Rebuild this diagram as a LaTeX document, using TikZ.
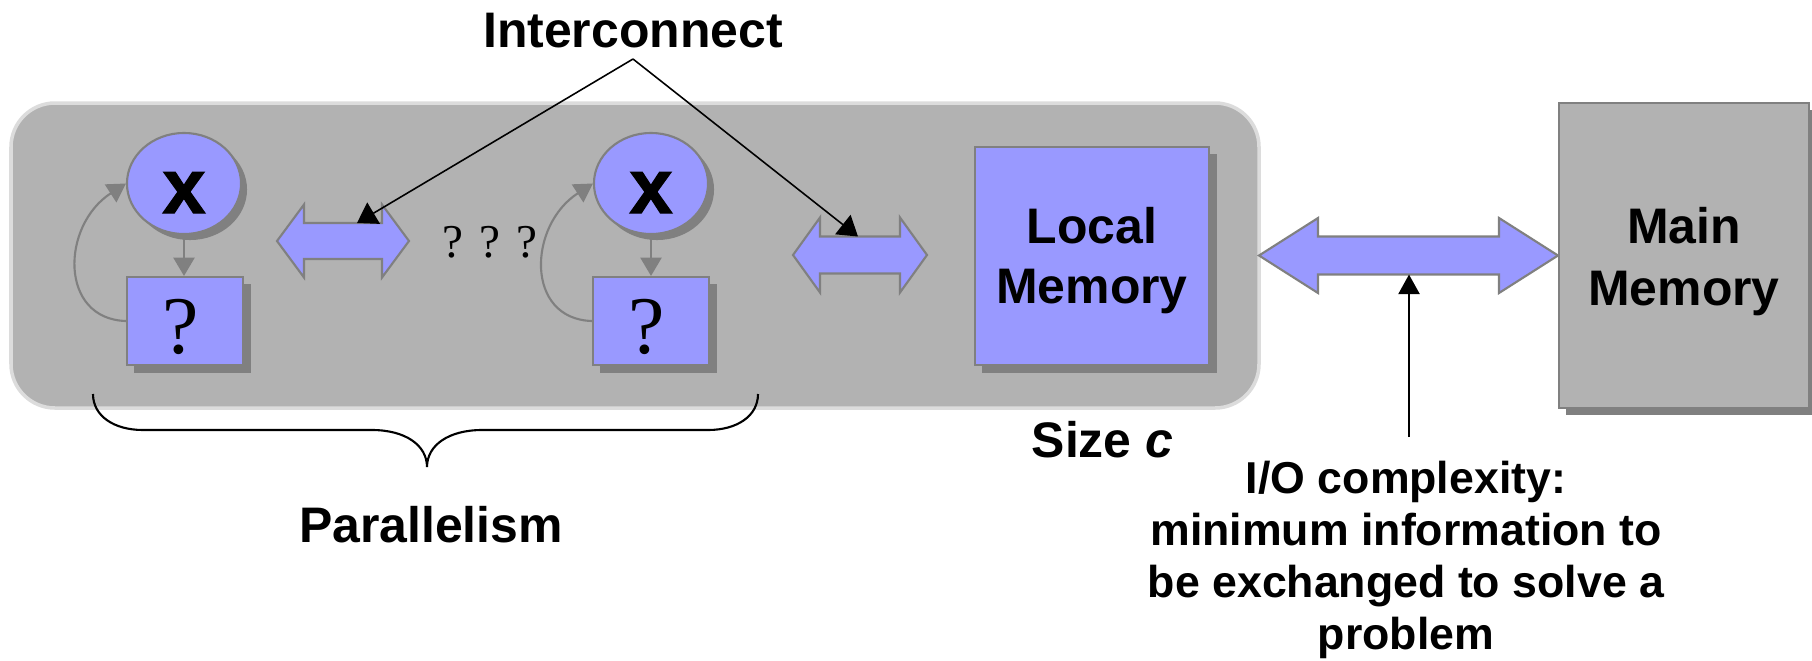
\documentclass[tikz,border=0pt]{standalone}
\usepackage{fontspec}
\setmainfont{Liberation Sans}
\newfontfamily\serifq{Liberation Serif}
\newfontfamily\heavyx[FakeBold=1.5]{Liberation Sans Bold}
\usetikzlibrary{shapes.geometric,arrows.meta,shadows}
\definecolor{blueish}{HTML}{9999FF}
\definecolor{panelgray}{HTML}{B2B2B2}
\definecolor{edgegray}{HTML}{808080}
\definecolor{shadowgray}{HTML}{808080}
\definecolor{paneledge}{HTML}{DCDCDC}
\lineskiplimit=-20pt
\newcommand{\myDblArrow}[6]{% x1 x2 cy headlen headhalf shafthalf
  \draw[dblarr] (#1,#3) -- ({#1+#4},{#3-#5}) -- ({#1+#4},{#3-#6}) -- ({#2-#4},{#3-#6})
   -- ({#2-#4},{#3-#5}) -- (#2,#3) -- ({#2-#4},{#3+#5}) -- ({#2-#4},{#3+#6})
   -- ({#1+#4},{#3+#6}) -- ({#1+#4},{#3+#5}) -- cycle;}
\tikzset{
  bluebox/.style={rectangle, draw=edgegray, fill=blueish, line width=0.6pt, inner sep=0pt,
    general shadow={fill=shadowgray, shadow xshift=0.075cm, shadow yshift=-0.075cm}},
  grayboxs/.style={rectangle, draw=edgegray, fill=panelgray, line width=0.6pt, inner sep=0pt,
    general shadow={fill=shadowgray, shadow xshift=0.07cm, shadow yshift=-0.07cm}},
  blueell/.style={ellipse, draw=edgegray, fill=blueish, line width=0.6pt, inner sep=0pt,
    minimum width=1.14cm, minimum height=1.01cm,
    general shadow={fill=shadowgray, shadow xshift=0.06cm, shadow yshift=-0.06cm}},
  dblarr/.style={fill=blueish, draw=edgegray, line width=0.6pt, line join=miter},
  garrow/.style={draw=edgegray, line width=0.6pt, -{Triangle[length=5.2pt,width=6pt]}},
  conn/.style={draw=black, line width=0.45pt, -{Triangle[length=5.5pt,width=7pt]}},
  upconn/.style={draw=black, line width=0.7pt, -{Triangle[length=5.6pt,width=6pt]}},
  lbl/.style={inner sep=0pt, font=\bfseries\fontsize{14.2pt}{17pt}\selectfont},
  memlbl/.style={inner sep=0pt, align=center, anchor=north},
  iolbl/.style={inner sep=0pt, align=center, anchor=north,
    font=\bfseries\fontsize{12.7pt}{14.8pt}\selectfont},
  xlbl/.style={inner sep=0pt, anchor=base, font=\heavyx\fontsize{22pt}{24pt}\selectfont},
  qlbl/.style={inner sep=0pt, anchor=base, font=\serifq\fontsize{23.3pt}{26pt}\selectfont},
  dotslbl/.style={inner sep=0pt, anchor=base, font=\serifq\fontsize{13.4pt}{16pt}\selectfont},
  bracepath/.style={draw=black, line width=0.6pt}
}
\begin{document}
\begin{tikzpicture}[x=0.01cm,y=-0.01cm]
\useasboundingbox (0,0) rectangle (1812,660);
\fill[white] (0,0) rectangle (1812,660);

% panel
\draw[fill=panelgray, draw=paneledge, line width=1pt, rounded corners=0.44cm] (11,103) rectangle (1259,408);

% processing elements
\node[blueell] (c1) at (184,183.5) {};
\node[bluebox, minimum width=1.16cm, minimum height=0.88cm] (q1) at (185,321) {};
\node[xlbl] (x1) at (184,213) {x};
\node[qlbl] (qm1) at (181,353) {?};

\node[blueell] (c2) at (651,183.5) {};
\node[bluebox, minimum width=1.16cm, minimum height=0.88cm] (q2) at (651,321) {};
\node[xlbl] (x2) at (651,213) {x};
\node[qlbl] (qm2) at (647,353) {?};

\draw[garrow] (c1.south) -- (c1.south |- q1.north);
\draw[garrow] (c2.south) -- (c2.south |- q2.north);
\draw[garrow] (q1.west) .. controls +(-67,-2) and +(-65,42) .. (c1.west);
\draw[garrow] (q2.west) .. controls +(-67,-2) and +(-65,42) .. (c2.west);

\node[dotslbl] (dots) at (490,257) {? ? ?};

% interconnect arrows
\myDblArrow{277}{409}{241}{27}{36.5}{18}
\myDblArrow{793}{927}{255}{27}{37.5}{18.5}
\coordinate (a1top) at (357,223);
\coordinate (a2top) at (858,236.5);

% local memory
\node[bluebox, minimum width=2.34cm, minimum height=2.18cm] (lm) at (1092,256) {};
\node[memlbl, font=\bfseries\fontsize{14.2pt}{17.07pt}\selectfont] (lmt) at (1092,206.5) {Local\\Memory};

% main memory
\node[grayboxs, minimum width=2.5cm, minimum height=3.05cm] (mm) at (1684,255.5) {};
\node[memlbl, font=\bfseries\fontsize{14.2pt}{17.6pt}\selectfont] (mmt) at (1684,207) {Main\\Memory};

% big arrow
\myDblArrow{1259}{1558}{255.5}{59}{37.5}{19}
\coordinate (a3bot) at (1409,274.5);

% Interconnect label
\node[lbl, anchor=base] (ic) at (633,47) {Interconnect};
\coordinate (apex) at (633,59);
\draw[conn] (apex) -- (a1top);
\draw[conn] (apex) -- (a2top);

% brace
\draw[bracepath] (93,394) .. controls (93,416) and (114,430) .. (143,430) -- (372,430)
  .. controls (405,430) and (427,445) .. (427,467)
  .. controls (427,445) and (449,430) .. (482,430) -- (708,430)
  .. controls (737,430) and (758,416) .. (758,394);
\node[lbl, anchor=base] (par) at (431,542) {Parallelism};

% size c
\node[lbl, anchor=base west] (size) at (1031,457) {Size \textit{c}};

% I/O complexity
\coordinate (iostart) at (1409,437);
\draw[upconn] (iostart) -- (a3bot);
\node[iolbl] (io) at (1406,460) {I/O complexity:\\minimum information to\\be exchanged to solve a\\problem};
\end{tikzpicture}
\end{document}
